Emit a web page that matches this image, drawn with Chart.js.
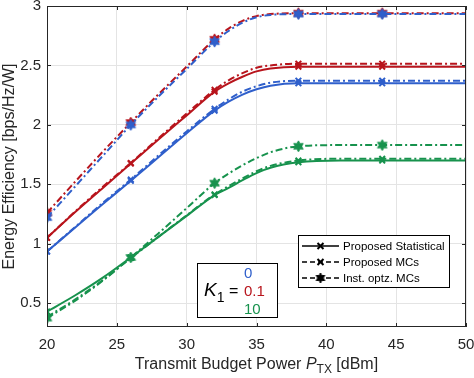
<!DOCTYPE html>
<html>
<head>
<meta charset="utf-8">
<script src="https://cdn.jsdelivr.net/npm/chart.js@4"></script>
<style>
  html, body { margin: 0; padding: 0; background: #fff; }
  #wrap { width: 474px; height: 378px; }
</style>
</head>
<body>
<div id="wrap"><canvas id="ee_canvas"></canvas></div>
<script>
const blue_color = 'rgb(47, 95, 203)';
const red_color = 'rgb(184, 20, 28)';
const green_color = 'rgb(23, 146, 77)';
const font_family = '"Liberation Sans", Arial, Helvetica, sans-serif';

// transmit power grid (dBm) and the points carrying markers
const powerDbm = [20, 22, 24, 26, 28, 30, 32, 33, 34, 35, 36, 38, 41, 44, 47, 50];
const markerDbm = [20, 26, 32, 38, 44];

// K1 = 0
const k0Statistical = [0.935, 1.135, 1.335, 1.53, 1.73, 1.93, 2.12, 2.195, 2.255, 2.3, 2.33, 2.35, 2.35, 2.35, 2.35, 2.35];
const k0MCs = [0.935, 1.14, 1.345, 1.54, 1.745, 1.945, 2.135, 2.215, 2.28, 2.325, 2.355, 2.372, 2.372, 2.372, 2.372, 2.372];
const k0InstOpt = [1.22, 1.48, 1.74, 2.0, 2.24, 2.47, 2.70, 2.79, 2.86, 2.905, 2.925, 2.932, 2.932, 2.932, 2.932, 2.932];

// K1 = 0.1
const k01Statistical = [1.05, 1.265, 1.47, 1.675, 1.88, 2.08, 2.28, 2.35, 2.405, 2.45, 2.475, 2.49, 2.49, 2.49, 2.49, 2.49];
const k01MCs = [1.05, 1.27, 1.48, 1.68, 1.89, 2.095, 2.295, 2.375, 2.435, 2.48, 2.5, 2.515, 2.515, 2.515, 2.515, 2.515];
const k01InstOpt = [1.26, 1.52, 1.775, 2.02, 2.26, 2.49, 2.72, 2.81, 2.875, 2.915, 2.932, 2.94, 2.94, 2.94, 2.94, 2.94];

// K1 = 10
const k10Statistical = [0.43, 0.565, 0.715, 0.885, 1.06, 1.235, 1.41, 1.47, 1.535, 1.595, 1.64, 1.685, 1.70, 1.70, 1.70, 1.70];
const k10MCs = [0.385, 0.53, 0.695, 0.88, 1.06, 1.24, 1.415, 1.485, 1.55, 1.61, 1.655, 1.70, 1.715, 1.715, 1.715, 1.715];
const k10InstOpt = [0.375, 0.52, 0.69, 0.885, 1.09, 1.30, 1.51, 1.59, 1.66, 1.72, 1.77, 1.82, 1.83, 1.83, 1.83, 1.83];

const xTicks = [20, 25, 30, 35, 40, 45, 50];
const yTicks = [0.5, 1, 1.5, 2, 2.5, 3];

const legendLabels = ['Proposed Statistical', 'Proposed MCs', 'Inst. optz. MCs'];
const kLabels = ['0', '0.1', '10'];

// filled six-pointed star, like MATLAB 'hexagram'
function hexagram(color, r) {
    const c = document.createElement('canvas');
    const s = Math.ceil(r * 2 + 2);
    c.width = s; c.height = s;
    const g = c.getContext('2d');
    g.fillStyle = color;
    g.strokeStyle = color;
    g.lineWidth = 1;
    const cx = s / 2, cy = s / 2;
    g.beginPath();
    for (let i = 0; i < 12; i++) {
        const rad = (i % 2 === 0) ? r : r * 0.55;
        const a = -Math.PI / 2 + i * Math.PI / 6;
        const px = cx + rad * Math.cos(a), py = cy + rad * Math.sin(a);
        if (i === 0) g.moveTo(px, py); else g.lineTo(px, py);
    }
    g.closePath();
    g.fill();
    g.stroke();
    return c;
}

function toPoints(ys) {
    return powerDbm.map((x, i) => ({ x: x, y: ys[i] }));
}

function markerRadius(ctx) {
    return markerDbm.includes(powerDbm[ctx.dataIndex]) ? 4 : 0;
}

const dashDot = [7, 3, 2, 3];

function series(label, ys, color, kind) {
    const ds = {
        label: label,
        data: toPoints(ys),
        borderColor: color,
        backgroundColor: color,
        borderWidth: 2,
        cubicInterpolationMode: 'monotone',
        pointRadius: markerRadius,
        pointHoverRadius: 0,
        pointBorderWidth: 2,
        pointBorderColor: color,
        pointBackgroundColor: color,
        fill: false
    };
    if (kind === 'stat') {
        ds.pointStyle = 'crossRot';
    } else if (kind === 'mc') {
        ds.pointStyle = 'crossRot';
        ds.borderDash = dashDot;
    } else {
        ds.pointStyle = hexagram(color, 5.5);
        ds.borderDash = dashDot;
    }
    return ds;
}

function drawRich(ctx, parts, x, y, align) {
    // parts: [text, font, dy]
    let total = 0;
    parts.forEach(p => { ctx.font = p[1]; total += ctx.measureText(p[0]).width; });
    let cx = align === 'center' ? x - total / 2 : x;
    parts.forEach(p => {
        ctx.font = p[1];
        ctx.fillText(p[0], cx, y + (p[2] || 0));
        cx += ctx.measureText(p[0]).width;
    });
}

const decorPlugin = {
    id: 'decor',
    afterDatasetsDraw(chart) {
        const ctx = chart.ctx;
        const a = chart.chartArea;
        const xs = chart.scales.x, ys = chart.scales.y;
        ctx.save();
        // box and inward ticks
        ctx.strokeStyle = '#262626';
        ctx.lineWidth = 1;
        ctx.strokeRect(a.left + 0.5, a.top + 0.5, a.right - a.left - 1, a.bottom - a.top - 1);
        ctx.beginPath();
        xTicks.forEach(v => {
            const px = Math.round(xs.getPixelForValue(v)) + 0.5;
            ctx.moveTo(px, a.bottom); ctx.lineTo(px, a.bottom - 4);
            ctx.moveTo(px, a.top); ctx.lineTo(px, a.top + 4);
        });
        yTicks.forEach(v => {
            const py = Math.round(ys.getPixelForValue(v)) + 0.5;
            ctx.moveTo(a.left, py); ctx.lineTo(a.left + 4, py);
            ctx.moveTo(a.right, py); ctx.lineTo(a.right - 4, py);
        });
        ctx.stroke();

        // axis titles
        ctx.fillStyle = '#262626';
        ctx.textBaseline = 'alphabetic';
        ctx.textAlign = 'left';
        const f16 = '16px ' + font_family;
        drawRich(ctx, [
            ['Transmit Budget Power ', f16, 0],
            ['P', 'italic ' + f16, 0],
            ['TX', '12px ' + font_family, 4],
            [' [dBm]', f16, 0]
        ], (a.left + a.right) / 2, 369, 'center');

        ctx.save();
        ctx.translate(14, (a.top + a.bottom) / 2);
        ctx.rotate(-Math.PI / 2);
        ctx.textAlign = 'center';
        ctx.font = f16;
        ctx.fillText('Energy Efficiency [bps/Hz/W]', 0, 0);
        ctx.restore();

        // K1 box
        ctx.fillStyle = '#fff';
        ctx.fillRect(197.5, 263.5, 80, 54);
        ctx.strokeStyle = '#000';
        ctx.lineWidth = 1;
        ctx.strokeRect(197.5, 263.5, 80, 54);
        ctx.fillStyle = '#000';
        ctx.textAlign = 'left';
        drawRich(ctx, [
            ['K', 'italic 19px ' + font_family, 0],
            ['1', '14px ' + font_family, 6],
            [' =', '16px ' + font_family, 0]
        ], 204, 296, 'left');
        const kColors = [blue_color, red_color, green_color];
        ctx.font = '15px ' + font_family;
        kLabels.forEach((t, i) => {
            ctx.fillStyle = kColors[i];
            ctx.fillText(t, 244, 278 + i * 18);
        });

        // series legend
        ctx.fillStyle = '#fff';
        ctx.fillRect(298.5, 235.5, 151, 52);
        ctx.strokeStyle = '#000';
        ctx.strokeRect(298.5, 235.5, 151, 52);
        const dashes = [[], [5, 3], [5, 3]];
        const star = hexagram('#000', 5);
        legendLabels.forEach((t, i) => {
            const y = 246 + i * 16;
            ctx.strokeStyle = '#000';
            ctx.lineWidth = 1.5;
            ctx.setLineDash(dashes[i]);
            ctx.beginPath();
            ctx.moveTo(302, y); ctx.lineTo(339, y);
            ctx.stroke();
            ctx.setLineDash([]);
            if (i < 2) {
                ctx.lineWidth = 2;
                ctx.beginPath();
                ctx.moveTo(317.5, y - 3); ctx.lineTo(323.5, y + 3);
                ctx.moveTo(317.5, y + 3); ctx.lineTo(323.5, y - 3);
                ctx.stroke();
            } else {
                ctx.drawImage(star, 320.5 - star.width / 2, y - star.height / 2);
            }
            ctx.fillStyle = '#000';
            ctx.font = '11.5px ' + font_family;
            ctx.textBaseline = 'middle';
            ctx.fillText(t, 343, y + 0.5);
            ctx.textBaseline = 'alphabetic';
        });
        ctx.restore();
    }
};

new Chart(document.getElementById('ee_canvas'), {
    type: 'line',
    data: {
        datasets: [
            series('K1=10 statistical', k10Statistical, green_color, 'stat'),
            series('K1=10 MCs', k10MCs, green_color, 'mc'),
            series('K1=10 inst', k10InstOpt, green_color, 'inst'),
            series('K1=0 statistical', k0Statistical, blue_color, 'stat'),
            series('K1=0 MCs', k0MCs, blue_color, 'mc'),
            series('K1=0.1 statistical', k01Statistical, red_color, 'stat'),
            series('K1=0.1 MCs', k01MCs, red_color, 'mc'),
            series('K1=0 inst', k0InstOpt, blue_color, 'inst'),
            series('K1=0.1 inst', k01InstOpt, red_color, 'inst')
        ]
    },
    options: {
        responsive: true,
        maintainAspectRatio: false,
        animation: false,
        layout: { padding: { top: 5, right: 8, left: 0, bottom: 0 } },
        plugins: {
            legend: { display: false },
            tooltip: { enabled: false }
        },
        scales: {
            x: {
                type: 'linear',
                min: 20,
                max: 50,
                afterBuildTicks: s => { s.ticks = xTicks.map(v => ({ value: v })); },
                afterFit: s => { s.height = 51; s.paddingLeft = 0; s.paddingRight = 0; },
                grid: { color: '#e4e4e4', drawTicks: false },
                border: { display: false },
                ticks: { color: '#262626', font: { size: 15, family: font_family }, padding: 9, maxRotation: 0,
                         callback: v => String(v) }
            },
            y: {
                type: 'linear',
                min: 0.3,
                max: 3,
                afterBuildTicks: s => { s.ticks = yTicks.map(v => ({ value: v })); },
                afterFit: s => { s.width = 47; s.paddingTop = 0; s.paddingBottom = 0; },
                grid: { color: '#e4e4e4', drawTicks: false },
                border: { display: false },
                ticks: { color: '#262626', font: { size: 15, family: font_family }, padding: 6,
                         callback: v => String(v) }
            }
        }
    },
    plugins: [decorPlugin]
});
</script>
</body>
</html>
